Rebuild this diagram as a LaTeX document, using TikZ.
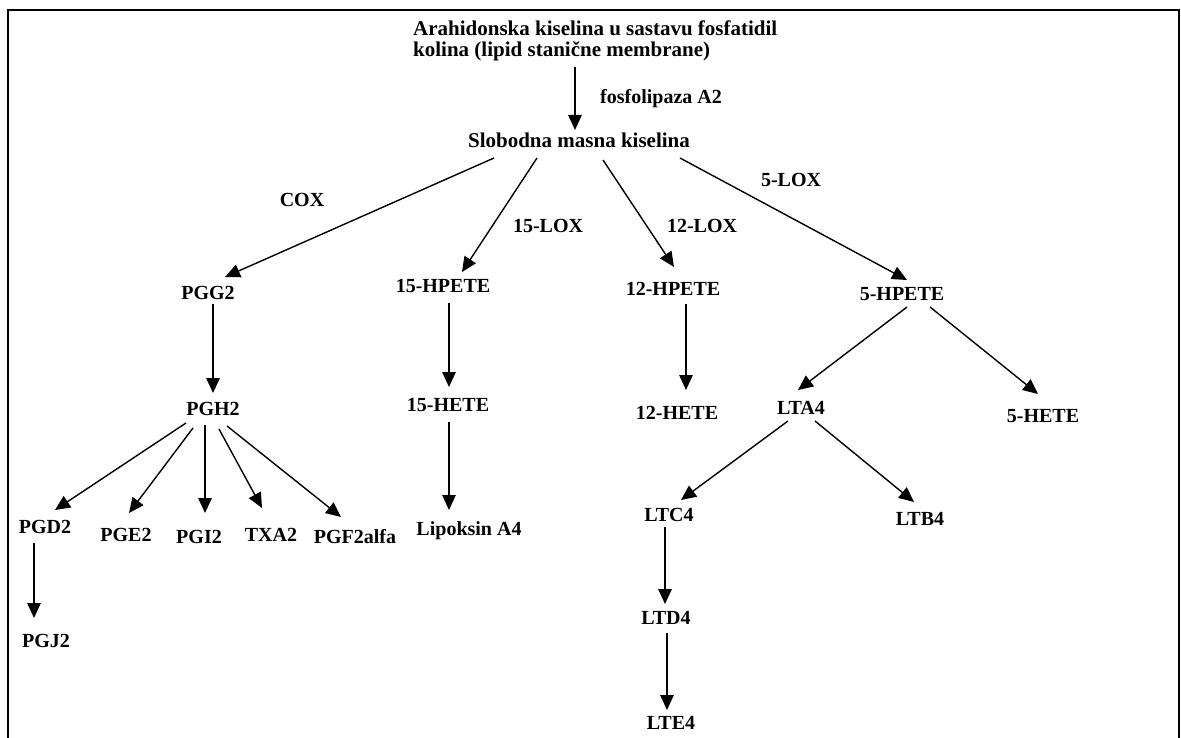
\documentclass[tikz,border=0pt]{standalone}
\usepackage{fontspec}
\setmainfont{Liberation Serif}
\usetikzlibrary{arrows.meta}
\begin{document}
\begin{tikzpicture}[x=1pt,y=-1pt,
  lab/.style={font=\bfseries\fontsize{20}{22}\selectfont, inner sep=0pt, text height=14pt, text depth=4pt},
  big/.style={font=\bfseries\fontsize{21}{21}\selectfont, inner sep=0pt},
  arr/.style={line width=1.4pt, -{Triangle[length=15pt,width=13.5pt]}},
  frame/.style={line width=2.5pt}]
\useasboundingbox (0,0) rectangle (1181,738);
% frame
\coordinate (fbl) at (8,745);
\coordinate (ftl) at (8,10);
\coordinate (ftr) at (1179,10);
\coordinate (fbr) at (1179,745);
\draw[frame] (fbl) -- (ftl) -- (ftr) -- (fbr);
% nodes
\node[big, anchor=north west, align=left] (aa) at (413,21) {Arahidonska kiselina u sastavu fosfatidil\\kolina (lipid stanične membrane)};
\node[lab] (fosf) at (661,99) {fosfolipaza A2};
\node[big, text height=15pt, text depth=5pt] (slob) at (579,143) {Slobodna masna kiselina};
\node[lab] (cox) at (302,202) {COX};
\node[lab] (lox15) at (548,228) {15-LOX};
\node[lab] (lox12) at (702,228) {12-LOX};
\node[lab] (lox5) at (791,182) {5-LOX};
\node[lab] (pgg2) at (208,294) {PGG2};
\node[lab] (hp15) at (443,287) {15-HPETE};
\node[lab] (hp12) at (673,290) {12-HPETE};
\node[lab] (hp5) at (902,295) {5-HPETE};
\node[lab] (pgh2) at (213,410) {PGH2};
\node[lab] (hete15) at (448,406) {15-HETE};
\node[lab] (hete12) at (677,414) {12-HETE};
\node[lab] (lta4) at (801,409) {LTA4};
\node[lab] (hete5) at (1043,417) {5-HETE};
\node[lab] (pgd2) at (45,528) {PGD2};
\node[lab] (pge2) at (126,536) {PGE2};
\node[lab] (pgi2) at (199,538) {PGI2};
\node[lab] (txa2) at (271,536) {TXA2};
\node[lab] (pgf) at (355,538) {PGF2alfa};
\node[lab] (lip) at (469,530) {Lipoksin A4};
\node[lab] (ltc4) at (669,516) {LTC4};
\node[lab] (ltb4) at (920,520) {LTB4};
\node[lab] (pgj2) at (46,642) {PGJ2};
\node[lab] (ltd4) at (666,619) {LTD4};
\node[lab] (lte4) at (671,724) {LTE4};
% arrows
\draw[arr] ([shift={(162,46)}]aa.north west) -- ([shift={(-4,-13)}]slob.center);
\draw[arr] ([shift={(-85,15)}]slob.center) -- ([shift={(17,-17)}]pgg2.center);
\draw[arr] ([shift={(-42,15)}]slob.center) -- ([shift={(19,-15)}]hp15.center);
\draw[arr] ([shift={(24,17)}]slob.center) -- ([shift={(1,-23)}]hp12.center);
\draw[arr] ([shift={(101,15)}]slob.center) -- ([shift={(5,-15)}]hp5.center);
\draw[arr] ([shift={(5,10)}]pgg2.center) -- ([shift={(0,-17)}]pgh2.center);
\draw[arr] ([shift={(6,16)}]hp15.center) -- ([shift={(1,-19)}]hete15.center);
\draw[arr] ([shift={(13,14)}]hp12.center) -- ([shift={(9,-24)}]hete12.center);
\draw[arr] ([shift={(5,12)}]hp5.center) -- ([shift={(-3,-19)}]lta4.center);
\draw[arr] ([shift={(28,12)}]hp5.center) -- ([shift={(-5,-23)}]hete5.center);
\draw[arr] ([shift={(-27,13)}]pgh2.center) -- ([shift={(10,-18)}]pgd2.center);
\draw[arr] ([shift={(-20,18)}]pgh2.center) -- ([shift={(3,-23)}]pge2.center);
\draw[arr] ([shift={(-8,15)}]pgh2.center) -- ([shift={(6,-25)}]pgi2.center);
\draw[arr] ([shift={(6,19)}]pgh2.center) -- ([shift={(-9,-28)}]txa2.center);
\draw[arr] ([shift={(14,16)}]pgh2.center) -- ([shift={(-14,-21)}]pgf.center);
\draw[arr] ([shift={(-11,15)}]pgd2.center) -- ([shift={(-12,-24)}]pgj2.center);
\draw[arr] ([shift={(1,16)}]hete15.center) -- ([shift={(-20,-20)}]lip.center);
\draw[arr] ([shift={(-13,12)}]lta4.center) -- ([shift={(12,-16)}]ltc4.center);
\draw[arr] ([shift={(14,12)}]lta4.center) -- ([shift={(-6,-18)}]ltb4.center);
\draw[arr] ([shift={(-4,11)}]ltc4.center) -- ([shift={(-1,-15)}]ltd4.center);
\draw[arr] ([shift={(1,14)}]ltd4.center) -- ([shift={(-4,-14)}]lte4.center);
\end{tikzpicture}
\end{document}
